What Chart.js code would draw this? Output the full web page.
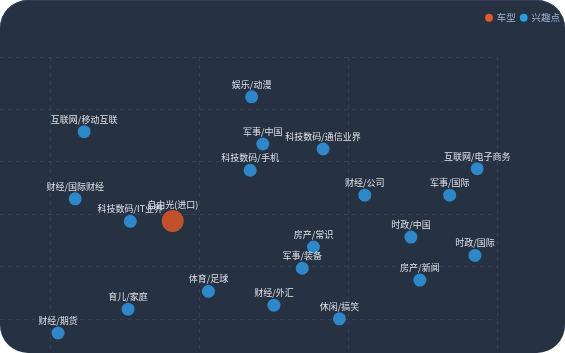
<!DOCTYPE html>
<html>
<head>
<meta charset="utf-8">
<script src="https://cdn.jsdelivr.net/npm/chart.js@4.4.1/dist/chart.umd.min.js"></script>
<style>
  html, body { margin: 0; padding: 0; background: #ffffff; }
  #wrap {
    position: relative; width: 565px; height: 353px;
    border-radius: 28px; overflow: hidden; background: #263142;
    box-shadow: inset 0 1px 0 #34405a;
  }
</style>
</head>
<body>
<div id="wrap"><canvas id="c"></canvas></div>
<script>
// ---- data ----
const seriesNames = ['车型', '兴趣点'];
const carNames = ['自由光(进口)'];
const carX = [36.4];
const carY = [57.4];

const interestNames = [
  '娱乐/动漫', '互联网/移动互联', '军事/中国', '科技数码/通信业界', '科技数码/手机',
  '互联网/电子商务', '财经/国际财经', '财经/公司', '军事/国际', '科技数码/IT业界',
  '时政/中国', '房产/常识', '时政/国际', '军事/装备', '房产/新闻',
  '体育/足球', '财经/外汇', '育儿/家庭', '休闲/搞笑', '财经/期货'
];
const interestX = [47.0, 24.5, 48.5, 56.6, 46.8, 77.3, 23.3, 62.2, 73.6, 30.7,
                   68.4, 55.3, 77.0, 53.8, 69.6, 41.2, 50.0, 30.4, 58.8, 21.0];
const interestY = [104.8, 91.5, 86.8, 84.9, 76.8, 77.4, 65.9, 67.3, 67.3, 57.3,
                   51.3, 47.5, 44.3, 39.4, 34.9, 30.6, 25.3, 23.8, 20.1, 14.7];

const xTicks = [20, 40, 60, 80];
const yTicks = [20, 40, 60, 80, 100, 120];
const xBounds = [13.2, 80];
const yBounds = [7.07, 120];

// ---- styles ----
const pointColors = ['#c1502d', '#2e87c8'];
const legendColors = ['#e2582a', '#2b9be6'];
const gridColor = '#33425b';

const toPoints = (names, xs, ys) => names.map((n, i) => ({ x: xs[i], y: ys[i], name: n }));

const pointLabels = {
  id: 'pointLabels',
  afterDatasetsDraw(chart) {
    const ctx = chart.ctx;
    ctx.save();
    ctx.font = '9px "Noto Sans CJK SC", sans-serif';
    ctx.fillStyle = '#dde1e7';
    ctx.textAlign = 'center';
    ctx.textBaseline = 'middle';
    chart.data.datasets.forEach((ds, di) => {
      const meta = chart.getDatasetMeta(di);
      meta.data.forEach((el, i) => {
        const r = el.options.radius;
        ctx.fillText(ds.data[i].name, el.x, el.y - r - 6);
      });
    });
    ctx.restore();
  }
};

new Chart(document.getElementById('c'), {
  type: 'scatter',
  data: {
    datasets: [
      {
        label: seriesNames[0],
        data: toPoints(carNames, carX, carY),
        backgroundColor: pointColors[0],
        borderWidth: 0,
        pointRadius: 11,
        pointHoverRadius: 11,
        pointStyle: 'circle',
        clip: false
      },
      {
        label: seriesNames[1],
        data: toPoints(interestNames, interestX, interestY),
        backgroundColor: pointColors[1],
        borderWidth: 0,
        pointRadius: 6.5,
        pointHoverRadius: 6.5,
        pointStyle: 'circle',
        clip: false
      }
    ]
  },
  options: {
    responsive: true,
    maintainAspectRatio: false,
    animation: false,
    layout: { autoPadding: false, padding: { top: 8, left: 0, right: 0, bottom: 0 } },
    plugins: {
      tooltip: { enabled: false },
      legend: {
        display: true,
        position: 'top',
        align: 'end',
        labels: {
          usePointStyle: true,
          pointStyle: 'circle',
          boxWidth: 6,
          boxHeight: 5.5,
          padding: 5,
          color: '#9fb2d2',
          font: { size: 9.5, family: '"Noto Sans CJK SC", sans-serif' },
          generateLabels(chart) {
            const items = Chart.defaults.plugins.legend.labels.generateLabels(chart);
            items.forEach((it, i) => { it.fillStyle = legendColors[i]; it.strokeStyle = legendColors[i]; it.lineWidth = 0; });
            return items;
          }
        }
      }
    },
    scales: {
      x: {
        type: 'linear',
        position: 'top',
        min: xBounds[0],
        max: xBounds[1],
        afterBuildTicks(scale) { scale.ticks = xTicks.map(v => ({ value: v })); },
        afterFit(scale) { scale.height = 24.5; },
        ticks: { display: false },
        grid: { color: gridColor, drawTicks: false, lineWidth: 1 },
        border: { display: false, dash: [4, 4] }
      },
      y: {
        type: 'linear',
        position: 'right',
        min: yBounds[0],
        max: yBounds[1],
        afterBuildTicks(scale) { scale.ticks = yTicks.map(v => ({ value: v })); },
        afterFit(scale) { scale.width = 67.7; },
        ticks: { display: false },
        grid: { color: gridColor, drawTicks: false, lineWidth: 1 },
        border: { display: false, dash: [4, 4] }
      }
    }
  },
  plugins: [pointLabels]
});
</script>
</body>
</html>
